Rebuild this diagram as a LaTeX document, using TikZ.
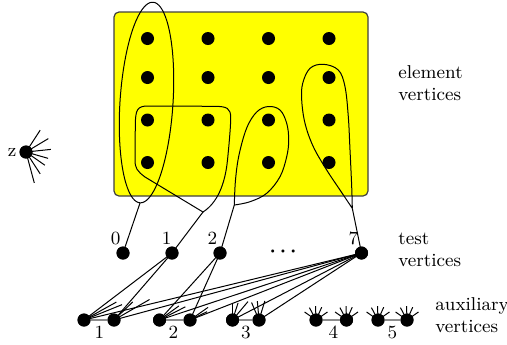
\documentclass[tikz,border=0pt]{standalone}
\usetikzlibrary{calc}
\definecolor{boxyellow}{RGB}{255,255,0}
\definecolor{pairgray}{RGB}{140,140,140}
\begin{document}
\begin{tikzpicture}[x=0.5pt,y=-0.5pt,
  vtx/.style={circle,fill=black,inner sep=0pt,minimum size=6.5pt},
  lbl/.style={inner sep=0pt,font=\fontsize{9.3}{11}\selectfont},
  edge/.style={line width=0.5pt},
  loop/.style={line width=0.5pt},
  pair/.style={draw=pairgray,line width=1pt}]
\useasboundingbox (0,0) rectangle (507,344);
% element box
\draw[fill=boxyellow,draw=black!75,line width=0.6pt,rounded corners=2.5pt] (114,12) rectangle (368,196);
% loops
\draw[loop] plot[domain=0:360,samples=90,smooth] ({146.5+26.45*cos(\x)+6.48*sin(\x)},{102.5+1.71*cos(\x)-100.3*sin(\x)});
\coordinate (l1b) at (140,203);
\draw[loop] (203,212) .. controls (217,203) and (225,185) .. (227.5,160)
  .. controls (229.5,140) and (230.7,125) .. (230.7,118)
  .. controls (230.7,108) and (227,106.5) .. (215,106.3)
  -- (148,106) .. controls (137,106) and (135.5,110) .. (135.3,125)
  -- (135,160) .. controls (135,168) and (137,171) .. (145,177) -- cycle;
\coordinate (l2b) at (203,212);
\draw[loop] plot[smooth,tension=0.6] coordinates {(234.3,205) (235.5,180) (239,155) (246.7,128) (256.7,112) (268.3,106.5) (280,110) (286.7,123.3) (288.7,140) (286.7,156.7) (280,176.7) (266.7,193.3) (250,201.7) (234.3,205)};
\coordinate (l3b) at (234.3,205);
\draw[loop] plot[smooth,tension=0.6] coordinates {(352.3,208.3) (351.7,186.7) (350,150) (348.3,116.7) (345,86.7) (338.3,70) (323.3,64.3) (310,68.3) (302.7,83.3) (301.7,100) (305,123.3) (313.3,146.7) (326.7,170) (340,190) (352.3,208.3)};
\coordinate (l4b) at (352.3,208.3);
% element vertices
\foreach \c/\x in {1/147.5,2/208,3/268.5,4/329}
  \foreach \r/\y in {1/38.5,2/77.5,3/120,4/162.5}
    \node[vtx] (e\r\c) at (\x,\y) {};
% test vertices
\node[vtx] (t0) at (123,253) {};
\node[vtx] (t1) at (172,253) {};
\node[vtx] (t2) at (220,253) {};
\node[vtx] (t7) at (361.5,253) {};
\node[lbl,anchor=base] (n0) at (115.7,244) {0};
\node[lbl,anchor=base] (n1) at (166.7,244) {1};
\node[lbl,anchor=base] (n2) at (212.3,244) {2};
\node[lbl,anchor=base] (n7) at (353.3,244) {7};
\node[inner sep=0pt,font=\fontsize{10}{12}\selectfont\boldmath] (dots) at (283,252) {$\cdots$};
% auxiliary vertices
\foreach \n/\x in {a1/84,b1/114,a2/159.5,b2/190,a3/232.5,b3/259,a4/316,b4/346.5,a5/378,b5/407}
  \node[vtx] (\n) at (\x,320) {};
\foreach \i in {1,...,5} \draw[pair] (a\i) -- (b\i);
\node[lbl,anchor=base] (m1) at (99.3,338) {1};
\node[lbl,anchor=base] (m2) at (173.3,338) {2};
\node[lbl,anchor=base] (m3) at (246,338) {3};
\node[lbl,anchor=base] (m4) at (333.3,338) {4};
\node[lbl,anchor=base] (m5) at (392.3,338) {5};
% loop connectors
\draw[edge] (l1b) -- (t0.center);
\draw[edge] (l2b) -- (t1.center);
\draw[edge] (l3b) -- (t2.center);
\draw[edge] (l4b) -- (t7.center);
% test-aux edges
\foreach \a in {a1,b1} \draw[edge] (t1.center) -- (\a.center);
\foreach \a in {a2,b2} \draw[edge] (t2.center) -- (\a.center);
\foreach \a in {a1,b1,a2,b2,a3,b3} \draw[edge] (t7.center) -- (\a.center);
% stubs (screen-up angle / length)
\foreach \v/\ang/\len in {a1/29/37,a1/22/41,b1/44/26,b1/30/41,a2/36/24,a2/27/29,b2/35/22,b2/26/19,
   a3/90/17,a3/72/18,a3/50/24,b3/113/19,b3/95/19,b3/73/20}
  \draw[edge] (\v.center) -- ++(-\ang:\len);
\foreach \v in {a4,b4,a5,b5}
  \foreach \ang in {145,118,92,66,35}
    \draw[edge] (\v.center) -- ++(-\ang:14);
% z
\node[vtx] (z) at (26,152) {};
\foreach \ang/\len in {57/26,31/26,6/25,-16/23,-35/23,-57/26,-75/32}
  \draw[edge] (z.center) -- ++(-\ang:\len);
\node[lbl,anchor=base] (zl) at (12,156) {z};
% redraw vertices on top
\foreach \n in {a1,b1,a2,b2,a3,b3,a4,b4,a5,b5,t0,t1,t2,t7,z}
  \fill (\n) circle (3.25pt);
% side labels
\node[lbl,anchor=base west] (el1) at (398,78.3) {element};
\node[lbl,anchor=base west] (el2) at (398,100) {vertices};
\node[lbl,anchor=base west] (tl1) at (398,244.5) {test};
\node[lbl,anchor=base west] (tl2) at (398,266.5) {vertices};
\node[lbl,anchor=base west] (al1) at (435,310.5) {auxiliary};
\node[lbl,anchor=base west] (al2) at (435,332.5) {vertices};
\end{tikzpicture}
\end{document}
